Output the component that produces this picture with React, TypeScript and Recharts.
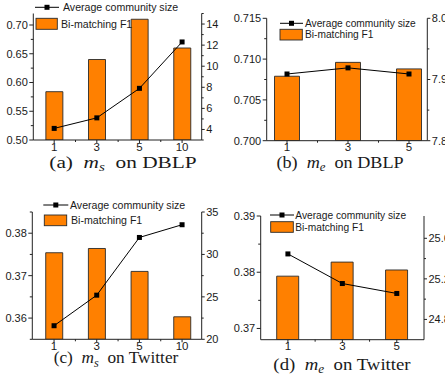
import React, { useLayoutEffect, useRef, useState } from 'react';
import { ComposedChart, Bar, Line, XAxis, YAxis } from 'recharts';

// x categories
const msLabels = ['1', '3', '5', '10'];
const meLabels = ['1', '3', '5'];

// (a) m_s on DBLP
const dblpMsF1 = [0.584, 0.64, 0.71, 0.66];
const dblpMsSize = [4.1, 5.1, 7.9, 12.3];
// (b) m_e on DBLP
const dblpMeF1 = [0.7079, 0.7096, 0.7088];
const dblpMeSize = [7.909, 7.919, 7.909];
// (c) m_s on Twitter
const twMsF1 = [0.3754, 0.3764, 0.371, 0.3603];
const twMsSize = [21.6, 25.2, 32.0, 33.5];
// (d) m_e on Twitter
const twMeF1 = [0.3793, 0.3818, 0.3804];
const twMeSize = [25.446, 25.154, 25.056];

// tick values
const aLeftMajor = [0.5, 0.55, 0.6, 0.65, 0.7];
const aLeftMinor = [0.525, 0.575, 0.625, 0.675];
const aRightMajor = [4, 6, 8, 10, 12, 14];
const aRightMinor = [3, 5, 7, 9, 11, 13, 15];
const bLeftMajor = [0.7, 0.705, 0.71, 0.715];
const bLeftMinor = [0.7025, 0.7075, 0.7125];
const bRightMajor = [7.8, 7.9, 8.0];
const bRightMinor = [7.85, 7.95];
const cLeftMajor = [0.36, 0.37, 0.38];
const cLeftMinor = [0.355, 0.365, 0.375, 0.385];
const cRightMajor = [20, 25, 30, 35];
const cRightMinor = [22.5, 27.5, 32.5];
const dLeftMajor = [0.37, 0.38, 0.39];
const dLeftMinor = [0.375, 0.385];
const dRightMajor = [24.8, 25.2, 25.6];
const dRightMinor = [25.0, 25.4];

const W = 445;
const H = 379;
const ORANGE = '#ff8000';
const AXIS = '#222';
const TEXT = '#1a1a1a';
const SANS = '"Liberation Sans", Arial, sans-serif';
const SERIF = '"Liberation Serif", "Times New Roman", serif';

const isIn = (list: number[], v: number) => list.some((m) => Math.abs(m - v) < 1e-9);

const yTick = (side: 'left' | 'right', majors: number[], digits: number) => (props: any) => {
  const { x, y, payload } = props;
  const v = payload.value as number;
  const major = isIn(majors, v);
  const dir = side === 'left' ? -1 : 1;
  const len = side === 'left' ? (major ? 4 : 2.5) : major ? 3 : 2;
  return (
    <g>
      <line x1={x} y1={y} x2={x + dir * len} y2={y} stroke={AXIS} strokeWidth={1} />
      {major && (
        <text
          x={x + dir * (len + 1.5)}
          y={y}
          dy="0.36em"
          textAnchor={side === 'left' ? 'end' : 'start'}
          fontSize={11}
          fontFamily={SANS}
          fill={TEXT}
        >
          {v.toFixed(digits)}
        </text>
      )}
    </g>
  );
};

const xTick = (labels: string[]) => (props: any) => {
  const { x, y, payload } = props;
  const v = payload.value as number;
  const major = Number.isInteger(v);
  return (
    <g>
      <line x1={x} y1={y} x2={x} y2={y + (major ? 3 : 2)} stroke={AXIS} strokeWidth={1} />
      {major && (
        <text x={x} y={y + 10.5} textAnchor="middle" fontSize={11.5} fontFamily={SANS} fill={TEXT}>
          {labels[v]}
        </text>
      )}
    </g>
  );
};

const squareDot = (p: any) => (
  <rect key={`d${p.index}`} x={p.cx - 2.5} y={p.cy - 2.5} width={5} height={5} fill="#000" />
);

type PanelProps = {
  labels: string[];
  f1: number[];
  size: number[];
  box: [number, number, number, number];
  xDomain: [number, number];
  leftDomain: [number, number];
  leftMajor: number[];
  leftMinor: number[];
  leftDigits: number;
  rightDomain: [number, number];
  rightMajor: number[];
  rightMinor: number[];
  rightDigits: number;
  barSize: number;
};

function Panel(p: PanelProps) {
  const [x0, y0, x1, y1] = p.box;
  const data = p.labels.map((label, i) => ({ pos: i, label, f1: p.f1[i], size: p.size[i] }));
  const xTicks: number[] = [];
  for (let i = 0; i < p.labels.length; i++) {
    xTicks.push(i);
    if (i < p.labels.length - 1) xTicks.push(i + 0.5);
  }
  // axes take 1px each, so the margins are 1px smaller than the plot box offsets
  return (
    <div style={{ position: 'absolute', left: 0, top: 0 }}>
      <ComposedChart
        width={W}
        height={H}
        data={data}
        margin={{ left: x0 - 1, top: y0, right: W - x1 - 1, bottom: H - y1 - 1 }}
      >
        <XAxis
          dataKey="pos"
          type="number"
          domain={p.xDomain}
          ticks={xTicks}
          interval={0}
          height={1}
          tickSize={0}
          tickMargin={0}
          tickLine={false}
          tick={xTick(p.labels)}
          axisLine={{ stroke: AXIS, strokeWidth: 1 }}
          allowDataOverflow
        />
        <YAxis
          yAxisId="left"
          orientation="left"
          type="number"
          domain={p.leftDomain}
          ticks={[...p.leftMajor, ...p.leftMinor].sort((a, b) => a - b)}
          interval={0}
          width={1}
          tickSize={0}
          tickMargin={0}
          tickLine={false}
          tick={yTick('left', p.leftMajor, p.leftDigits)}
          axisLine={{ stroke: AXIS, strokeWidth: 1 }}
          allowDataOverflow
        />
        <YAxis
          yAxisId="right"
          orientation="right"
          type="number"
          domain={p.rightDomain}
          ticks={[...p.rightMajor, ...p.rightMinor].sort((a, b) => a - b)}
          interval={0}
          width={1}
          tickSize={0}
          tickMargin={0}
          tickLine={false}
          tick={yTick('right', p.rightMajor, p.rightDigits)}
          axisLine={{ stroke: AXIS, strokeWidth: 1 }}
          allowDataOverflow
        />
        <Bar
          yAxisId="left"
          dataKey="f1"
          barSize={p.barSize}
          fill={ORANGE}
          stroke="#2a2a2a"
          strokeWidth={0.9}
          isAnimationActive={false}
        />
        <Line
          yAxisId="right"
          dataKey="size"
          type="linear"
          stroke="#000"
          strokeWidth={1}
          dot={squareDot}
          activeDot={false}
          isAnimationActive={false}
        />
      </ComposedChart>
    </div>
  );
}

type LegendSpec = {
  lx1: number;
  lx2: number;
  ly: number;
  lt: number;
  rx: number;
  ry: number;
  rw: number;
  rh: number;
  rt: number;
  fs: number;
};

function LegendBox({ s }: { s: LegendSpec }) {
  const mx = (s.lx1 + s.lx2) / 2;
  return (
    <g fontFamily={SANS} fontSize={s.fs} fill={TEXT}>
      <line x1={s.lx1} y1={s.ly} x2={s.lx2} y2={s.ly} stroke="#000" strokeWidth={1} />
      <rect x={mx - 2.5} y={s.ly - 2.5} width={5} height={5} fill="#000" />
      <text x={s.lt} y={s.ly} dy="0.36em">
        Average community size
      </text>
      <rect x={s.rx} y={s.ry} width={s.rw} height={s.rh} fill={ORANGE} stroke="#2a2a2a" strokeWidth={0.9} />
      <text x={s.rt} y={s.ry + s.rh / 2} dy="0.36em">
        Bi-matching F1
      </text>
    </g>
  );
}

// caption line box kept tight (10px) so it does not claim space above the glyphs
function Caption({ tag, sub, rest, cx, base, width }: { tag: string; sub: string; rest: string; cx: number; base: number; width: number }) {
  const ref = useRef<HTMLDivElement>(null);
  const [k, setK] = useState(1);
  useLayoutEffect(() => {
    if (ref.current) setK(width / ref.current.offsetWidth);
  }, [width]);
  return (
    <div
      ref={ref}
      style={{
        position: 'absolute',
        left: cx,
        top: base - 10.75,
        transform: `translateX(-50%) scaleX(${k})`,
        whiteSpace: 'nowrap',
        fontFamily: SERIF,
        fontSize: 17,
        lineHeight: '10px',
        color: TEXT,
      }}
    >
      {tag}
      {'\u00a0\u00a0'}
      <i>m</i>
      <i style={{ fontSize: 12, position: 'relative', top: 3.5 }}>{sub}</i>
      {'\u00a0\u00a0'}
      {rest}
    </div>
  );
}

const legends: LegendSpec[] = [
  { lx1: 35, lx2: 59, ly: 7.3, lt: 63, rx: 36, ry: 18.3, rw: 21.3, rh: 11, rt: 61, fs: 10.6 },
  { lx1: 280, lx2: 303, ly: 23.3, lt: 305, rx: 280, ry: 29.3, rw: 22.3, rh: 10.7, rt: 305, fs: 10.2 },
  { lx1: 43.3, lx2: 68.3, ly: 205, lt: 70, rx: 44.3, ry: 215, rw: 22.4, rh: 10.7, rt: 71, fs: 10.6 },
  { lx1: 270, lx2: 294, ly: 215, lt: 295.3, rx: 270.7, ry: 221.7, rw: 22.6, rh: 10.6, rt: 295.3, fs: 10.2 },
];

export default function App() {
  return (
    <div style={{ position: 'absolute', left: 0, top: 0, width: W, height: H, overflow: 'hidden', background: '#fff' }}>
      <Panel
        labels={msLabels}
        f1={dblpMsF1}
        size={dblpMsSize}
        box={[33.3, 13.5, 201.7, 140]}
        xDomain={[-0.49, 3.46]}
        leftDomain={[0.5, 0.72]}
        leftMajor={aLeftMajor}
        leftMinor={aLeftMinor}
        leftDigits={2}
        rightDomain={[3, 15]}
        rightMajor={aRightMajor}
        rightMinor={aRightMinor}
        rightDigits={0}
        barSize={17}
      />
      <Panel
        labels={meLabels}
        f1={dblpMeF1}
        size={dblpMeSize}
        box={[266.7, 18.3, 427.3, 140.7]}
        xDomain={[-0.333, 2.3]}
        leftDomain={[0.7, 0.715]}
        leftMajor={bLeftMajor}
        leftMinor={bLeftMinor}
        leftDigits={3}
        rightDomain={[7.8, 8.0]}
        rightMajor={bRightMajor}
        rightMinor={bRightMinor}
        rightDigits={1}
        barSize={25}
      />
      <Panel
        labels={msLabels}
        f1={twMsF1}
        size={twMsSize}
        box={[32.3, 212, 201.7, 339.3]}
        xDomain={[-0.51, 3.46]}
        leftDomain={[0.355, 0.385]}
        leftMajor={cLeftMajor}
        leftMinor={cLeftMinor}
        leftDigits={2}
        rightDomain={[20, 35]}
        rightMajor={cRightMajor}
        rightMinor={cRightMinor}
        rightDigits={0}
        barSize={17}
      />
      <Panel
        labels={meLabels}
        f1={twMeF1}
        size={twMeSize}
        box={[260.7, 216, 424, 339.7]}
        xDomain={[-0.5, 2.5]}
        leftDomain={[0.368, 0.39]}
        leftMajor={dLeftMajor}
        leftMinor={dLeftMinor}
        leftDigits={2}
        rightDomain={[24.6, 25.82]}
        rightMajor={dRightMajor}
        rightMinor={dRightMinor}
        rightDigits={1}
        barSize={22}
      />
      <svg width={W} height={H} style={{ position: 'absolute', left: 0, top: 0 }}>
        {legends.map((s, i) => (
          <LegendBox key={i} s={s} />
        ))}
      </svg>
      <Caption tag="(a)" sub="s" rest="on DBLP" cx={123} base={168.5} width={148} />
      <Caption tag="(b)" sub="e" rest="on DBLP" cx={340} base={168.3} width={127} />
      <Caption tag="(c)" sub="s" rest="on Twitter" cx={116} base={363.8} width={125} />
      <Caption tag="(d)" sub="e" rest="on Twitter" cx={342} base={370.5} width={137} />
    </div>
  );
}
